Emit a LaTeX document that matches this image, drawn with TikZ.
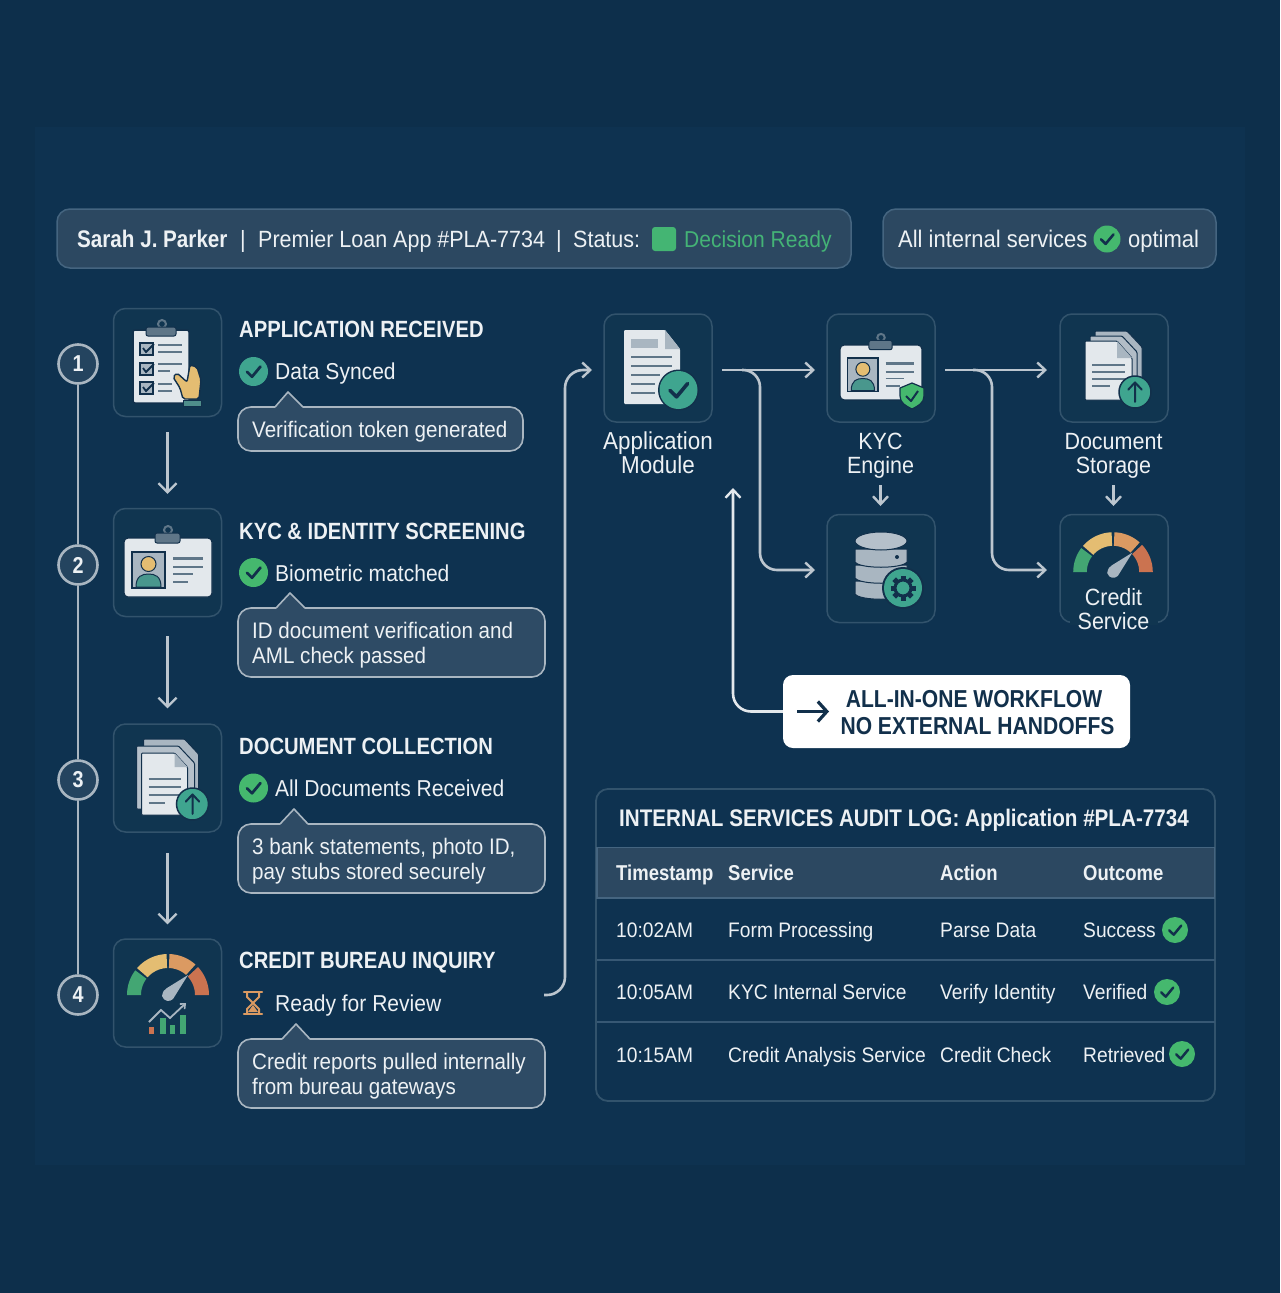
\documentclass[tikz,border=0pt]{standalone}
\usepackage{fontspec}
\usetikzlibrary{arrows.meta,calc}
\setmainfont[FakeStretch=0.915,BoldFeatures={FakeStretch=0.86}]{Liberation Sans}
\definecolor{bgout}{HTML}{0D2F4B}
\definecolor{bgin}{HTML}{0E3250}
\definecolor{cardfill}{HTML}{103550}
\definecolor{cardline}{HTML}{32536C}
\definecolor{barfill}{HTML}{2C4861}
\definecolor{barline}{HTML}{456580}
\definecolor{calfill}{HTML}{2E4B65}
\definecolor{calline}{HTML}{A9B6C1}
\definecolor{txt}{HTML}{EDF1F4}
\definecolor{navy}{HTML}{12304B}
\definecolor{arr}{HTML}{BCC6CF}
\definecolor{teal}{HTML}{3FA58F}
\definecolor{grn}{HTML}{45B86E}
\definecolor{paper}{HTML}{E3E8EC}
\definecolor{paperb}{HTML}{A9B6C1}
\definecolor{slate}{HTML}{5F7688}
\definecolor{gold}{HTML}{E4BD72}
\definecolor{orng}{HTML}{DB9A62}
\definecolor{redd}{HTML}{CB7350}
\definecolor{gaugeg}{HTML}{43A673}
\tikzset{
  x=1pt,y=-1pt,
  tx/.style={text=txt,inner sep=0pt,anchor=base west,font=\fontsize{23}{27}\selectfont},
  txc/.style={tx,anchor=base,font=\fontsize{23.5}{27}\selectfont},
  bb/.style={tx,font=\fontsize{23.5}{27}\selectfont},
  hd/.style={tx,font=\fontsize{23.5}{27}\selectfont\bfseries},
  cal/.style={tx,font=\fontsize{22.5}{27}\selectfont},
  tb/.style={tx,font=\fontsize{21}{27}\selectfont},
  tbh/.style={tx,font=\fontsize{21.5}{27}\selectfont\bfseries},
  card/.style={draw=cardline,fill=cardfill,line width=1.5pt,rounded corners=12pt,minimum width=108pt,minimum height=108pt,inner sep=0pt},
  bar/.style={draw=barline,fill=barfill,line width=1.5pt,rounded corners=13pt,inner sep=0pt},
  calbox/.style={draw=calline,fill=calfill,line width=1.6pt,rounded corners=13pt,inner sep=0pt},
  num/.style={circle,draw=calline,fill=calfill!70!bgin,line width=2.6pt,minimum size=39pt,inner sep=0pt,text=txt,font=\fontsize{23}{27}\selectfont\bfseries},
  tl/.style={draw=calline,line width=2.8pt},
  conn/.style={draw=arr,line width=2.6pt,-{Straight Barb[length=8pt,width=15pt,line width=2.4pt]}},
  stp/.style={draw=arr,line width=2.2pt,-{Straight Barb[length=9pt,width=18pt,line width=2.2pt]}},
  icoln/.style={draw=slate,line width=1.8pt},
}
% check badge: x y r colour
\newcommand{\ckb}[4]{%
  \fill[#4] (#1,#2) circle (#3);
  \draw[navy,line width=#3*0.19pt,line cap=round,line join=round]
    ($(#1,#2)+(-0.45*#3,0.02*#3)$) -- ($(#1,#2)+(-0.1*#3,0.36*#3)$) -- ($(#1,#2)+(0.48*#3,-0.34*#3)$);
}
% upload badge
\newcommand{\upb}[3]{%
  \fill[teal,draw=navy,line width=1.5pt] (#1,#2) circle (#3);
  \draw[navy,line width=2pt,line cap=round,line join=round]
    ($(#1,#2)+(0,0.62*#3)$) -- ($(#1,#2)+(0,-0.6*#3)$)
    ($(#1,#2)+(-0.42*#3,-0.15*#3)$) -- ($(#1,#2)+(0,-0.6*#3)$) -- ($(#1,#2)+(0.42*#3,-0.15*#3)$);
}
% id card: cx cy scale
\newcommand{\idcard}[3]{%
 \begin{scope}[shift={(#1,#2)},scale=#3]
  \fill[paper,draw=navy,line width=1.2pt,rounded corners=4pt] (-44,-29) rectangle (44,30);
  \draw[slate,line width=2pt] (0,-37) circle (4);
  \fill[slate,draw=navy,line width=1pt,rounded corners=2pt] (-13,-34) rectangle (12,-24);
  \fill[paperb,draw=navy,line width=1.6pt] (-36,-15) rectangle (-3,21);
  \fill[teal!70!slate,draw=navy,line width=1pt] (-32,20) .. controls (-32,9) and (-26,7) .. (-19.5,7) .. controls (-13,7) and (-7,9) .. (-7,20) -- cycle;
  \fill[gold,draw=navy,line width=1pt] (-19.5,-3) circle (7.5);
  \draw[slate,line width=3pt] (5,-9) -- (35,-9);
  \draw[slate,line width=1.6pt] (5,0) -- (35,0) (5,7) -- (25,7) (5,15) -- (20,15);
 \end{scope}}
% doc stack: cx cy scale
\newcommand{\docstack}[3]{%
 \begin{scope}[shift={(#1,#2)},scale=#3]
  \fill[paperb,draw=navy,line width=1pt,rounded corners=1pt] (-21,-45) -- (20,-45) -- (34,-30) -- (34,21) -- (-21,21) -- cycle;
  \fill[paperb!80!paper,draw=navy,line width=1pt,rounded corners=1pt] (-28,-38) -- (14,-38) -- (30,-21) -- (30,25) -- (-28,25) -- cycle;
  \fill[paper,draw=navy,line width=1pt,rounded corners=1pt] (-23,-31) -- (10,-31) -- (23,-17) -- (23,31) -- (-23,31) -- cycle;
  \fill[paperb] (10,-31) -- (23,-17) -- (10,-17) -- cycle;
  \draw[slate,line width=1.7pt] (-16,-5) -- (16,-5) (-16,3) -- (16,3) (-16,11) -- (16,11) (-16,19) -- (0,19);
 \end{scope}
 \upb{#1+28*#3}{#2+20*#3}{16}}
% gauge: cx cy scale
\newcommand{\gseg}[3]{\fill[#1] plot[domain=#2:#3,samples=14] ({41*cos(\x)},{-41*sin(\x)}) -- plot[domain=#3:#2,samples=14] ({27*cos(\x)},{-27*sin(\x)}) -- cycle;}
\newcommand{\gauge}[3]{%
 \begin{scope}[shift={(#1,#2)},scale=#3]
  \gseg{gaugeg}{180}{143}\gseg{gold}{139}{92}\gseg{orng}{88}{48}\gseg{redd}{43}{0}
  \fill[paperb] (-6,1) .. controls (-5,-4) and (-4,-5) .. (-1,-7) -- (20,-20) -- (5,4) .. controls (2,7) and (-4,7) .. (-6,1) -- cycle;
 \end{scope}}

\begin{document}
\begin{tikzpicture}
\useasboundingbox (0,0) rectangle (1280,1293);
\fill[bgout] (0,0) rectangle (1280,1293);
\fill[bgin] (35,127) rectangle (1245,1165);

%---- top bars
\node[bar,minimum width=794pt,minimum height=59pt] (barL) at (454,238.5) {};
\node[bar,minimum width=333pt,minimum height=59pt] (barR) at (1049.5,238.5) {};
\node[hd,font=\fontsize{24}{27}\selectfont\bfseries] (name) at (77,247) {Sarah J. Parker};
\node[bb] (sep1) at (240,247) {|};
\node[bb] (prem) at (258,247) {Premier Loan App \#PLA-7734};
\node[bb] (sep2) at (556,247) {|};
\node[bb] (stat) at (573,247) {Status:};
\node[fill=grn!85!teal,rounded corners=3pt,minimum size=24pt,inner sep=0pt] (sq) at (664,239) {};
\node[bb,text=grn!75!teal,font=\fontsize{23}{27}\selectfont] (dec) at (684,247) {Decision Ready};
\node[bb,font=\fontsize{24}{27}\selectfont] (alli) at (898,247) {All internal services};
\ckb{1107}{239}{13.5}{grn}
\node[bb,font=\fontsize{24}{27}\selectfont] (opt) at (1128,247) {optimal};

%---- timeline
\node[num] (n1) at (78,364) {1};
\node[num] (n2) at (78,565) {2};
\node[num] (n3) at (78,780) {3};
\node[num] (n4) at (78,995) {4};
\draw[tl] (n1)--(n2); \draw[tl] (n2)--(n3); \draw[tl] (n3)--(n4);

%---- step cards
\node[card] (s1) at (167.5,362.5) {};
\node[card] (s2) at (167.5,562.5) {};
\node[card] (s3) at (167.5,778) {};
\node[card] (s4) at (167.5,993) {};
\draw[stp,shorten <=15pt,shorten >=14pt] (s1) -- (s2);
\draw[stp,shorten <=19pt,shorten >=15pt] (s2) -- (s3);
\draw[stp,shorten <=20pt,shorten >=14pt] (s3) -- (s4);

% clipboard icon
\fill[paper,draw=navy,line width=1.5pt,rounded corners=2pt] (133,330) rectangle (189,403);
\draw[slate,line width=2pt] (162,324) circle (4);
\fill[slate,draw=navy,line width=1pt,rounded corners=2pt] (146,327) rectangle (176,336);
\foreach \yy in {343,363,382}{
  \fill[paperb,draw=navy,line width=1.5pt] (140,\yy) rectangle (153,\yy+12);
  \draw[navy,line width=1.8pt] (143,\yy+5) -- (146,\yy+9) -- (154,\yy+1);
}
\draw[icoln] (158,345) -- (182,345) (158,352) -- (182,352) (158,364) -- (182,364) (158,371) -- (170,371) (158,384) -- (172,384) (158,391) -- (172,391);
\fill[gold,draw=navy,line width=1.4pt,rounded corners=2pt] (173,377) -- (177,373) -- (187,382) -- (190,365) -- (197,367) -- (201,380) -- (199,399) -- (183,399) -- (180,388) -- cycle;
\fill[slate!50!teal,draw=navy,line width=.8pt] (183,400) rectangle (201,406);

\idcard{168}{567}{1}
\docstack{164.5}{784}{1}
\gauge{168}{995}{1}
% mini chart
\fill[redd] (149,1027) rectangle (154,1034);
\fill[gaugeg] (160,1018) rectangle (165.5,1034);
\fill[gaugeg] (170,1025) rectangle (175,1034);
\fill[gaugeg] (180,1015) rectangle (185.5,1034);
\draw[paperb,line width=1.8pt,-{Straight Barb[length=4pt,width=7pt,line width=1.6pt]}] (149,1022) -- (161,1010) -- (170,1018) -- (186,1003);

%---- step texts
\node[hd] (h1) at (239,337) {APPLICATION RECEIVED};
\ckb{253.5}{371.5}{14.5}{teal}
\node[tx] (t1) at (275,379) {Data Synced};
\node[calbox,minimum width=285pt,minimum height=44pt] (b1) at (380.5,429) {};
\fill[calfill] (275,408) -- (288,392) -- (303,408) -- cycle;
\draw[calline,line width=1.6pt,line join=round] (275,407) -- (288,392) -- (303,407);
\node[cal] (l1) at (252,437) {Verification token generated};

\node[hd] (h2) at (239,539) {KYC \& IDENTITY SCREENING};
\ckb{253.5}{572.5}{14.5}{grn}
\node[tx] (t2) at (275,581) {Biometric matched};
\node[calbox,minimum width=307pt,minimum height=69pt] (b2) at (391.5,642.5) {};
\fill[calfill] (276,609) -- (290,593) -- (305,609) -- cycle;
\draw[calline,line width=1.6pt,line join=round] (276,608) -- (290,593) -- (305,608);
\node[cal] (l2a) at (252,638) {ID document verification and};
\node[cal] (l2b) at (252,663) {AML check passed};

\node[hd] (h3) at (239,754) {DOCUMENT COLLECTION};
\ckb{253.5}{788}{14.5}{grn}
\node[tx] (t3) at (275,796) {All Documents Received};
\node[calbox,minimum width=307pt,minimum height=69pt] (b3) at (391.5,858.5) {};
\fill[calfill] (280,825) -- (294,809) -- (308,825) -- cycle;
\draw[calline,line width=1.6pt,line join=round] (280,824) -- (294,809) -- (308,824);
\node[cal] (l3a) at (252,854) {3 bank statements, photo ID,};
\node[cal] (l3b) at (252,879) {pay stubs stored securely};

\node[hd] (h4) at (239,968) {CREDIT BUREAU INQUIRY};
\draw[orng,line width=2.2pt,line cap=round] (244,992) -- (262,992) (244,1014) -- (262,1014);
\draw[orng,line width=2pt,line join=round] (247,992) -- (247,997) -- (259,1009) -- (259,1014) (259,992) -- (259,997) -- (247,1009) -- (247,1014);
\fill[orng] (253,1005) -- (258,1012) -- (248,1012) -- cycle;
\node[tx] (t4) at (275,1011) {Ready for Review};
\node[calbox,minimum width=307pt,minimum height=69pt] (b4) at (391.5,1073.5) {};
\fill[calfill] (282,1040) -- (296,1024) -- (310,1040) -- cycle;
\draw[calline,line width=1.6pt,line join=round] (282,1039) -- (296,1024) -- (310,1039);
\node[cal] (l4a) at (252,1069) {Credit reports pulled internally};
\node[cal] (l4b) at (252,1094) {from bureau gateways};

%---- right cards
\node[card] (app) at (658,368) {};
\node[card] (kyc) at (881,368) {};
\node[card] (docs) at (1114,368) {};
\node[card] (db) at (881,568.5) {};
\node[card] (cred) at (1114,568.5) {};

% application doc icon
\fill[paper,rounded corners=1pt] (624,330) -- (665,330) -- (680,349) -- (680,404) -- (624,404) -- cycle;
\fill[paperb] (665,330) -- (680,349) -- (665,349) -- cycle;
\fill[paperb] (631,339) rectangle (658,348);
\draw[icoln] (631,357) -- (672,357) (631,366) -- (672,366) (631,375) -- (660,375) (631,384) -- (655,384) (631,393) -- (655,393);
\fill[navy] (678.5,390) circle (20.5);
\ckb{678.5}{390}{19}{teal}

% KYC icon
\idcard{881}{372}{0.93}
\fill[grn,draw=navy,line width=1.2pt,line join=round] (912,383) -- (924,388) -- (924,396) .. controls (924,403) and (918,406) .. (912,409) .. controls (906,406) and (900,403) .. (900,396) -- (900,388) -- cycle;
\draw[navy,line width=2pt,line join=round] (906,396) -- (911,401) -- (918,391);

% doc storage icon (sheets fan out up and to the right of the front page)
\fill[paperb,draw=navy,line width=1pt,rounded corners=1pt] (1095,331) -- (1127,331) -- (1142,347) -- (1142,391) -- (1095,391) -- cycle;
\fill[paperb!85!paper,draw=navy,line width=1pt,rounded corners=1pt] (1090,336) -- (1122,336) -- (1137,352) -- (1137,396) -- (1090,396) -- cycle;
\fill[paper,draw=navy,line width=1pt,rounded corners=1pt] (1085,341) -- (1117,341) -- (1132,358) -- (1132,400) -- (1085,400) -- cycle;
\fill[paperb] (1117,341) -- (1132,358) -- (1117,358) -- cycle;
\draw[slate,line width=1.7pt] (1092,365) -- (1125,365) (1092,372) -- (1125,372) (1092,379) -- (1125,379) (1092,386) -- (1110,386);
\upb{1135}{392}{16}

% database icon
\foreach \yy in {581,565,549}{
  \fill[paperb,draw=navy,line width=1pt] (855,\yy) -- (855,\yy+13) .. controls (860,\yy+20) and (902,\yy+20) .. (907,\yy+13) -- (907,\yy) -- cycle;
}
\fill[paperb!80!paper,draw=navy,line width=1pt] (881,541) ellipse (26 and 9);
\fill[navy] (897,557) circle (2) (897,573) circle (2);
\fill[navy] (903,588) circle (21);
\fill[teal] (903,588) circle (19);
\foreach \a in {0,45,...,315}{
  \fill[navy,rotate around={\a:(903,588)}] (900.5,575.5) rectangle (905.5,583);
}
\fill[teal,draw=navy,line width=3pt] (903,588) circle (8);

% credit gauge
\gauge{1113}{572}{0.97}
\fill[cardfill] (1070,617) rectangle (1158,625);

%---- labels
\node[txc,font=\fontsize{24.5}{27}\selectfont] (la) at (658,449) {Application};
\node[txc,font=\fontsize{24.5}{27}\selectfont] (lb) at (658,473) {Module};
\node[txc] (lc) at (880.5,449) {KYC};
\node[txc] (ld) at (880.5,473) {Engine};
\node[txc] (le) at (1113.5,449) {Document};
\node[txc] (lf) at (1113.5,473) {Storage};
\node[txc] (lg) at (1113.5,605) {Credit};
\node[txc] (lh) at (1113.5,629) {Service};

%---- connectors
\coordinate (st4out) at (544,995);
\coordinate (appin) at (592,370);
\draw[conn,rounded corners=18pt] (st4out) -- (565,995) -- (565,370) -- (appin);
\coordinate (aout) at (722,370);
\coordinate (kin) at (815,370);
\coordinate (ja) at (742,370);
\coordinate (dbin) at (815,570);
\draw[conn] (aout) -- (kin);
\draw[conn,rounded corners=17pt] (ja) -- (760,370) -- (760,570) -- (dbin);
\coordinate (kout) at (945,370);
\coordinate (din) at (1047,370);
\coordinate (jb) at (973,370);
\coordinate (crin) at (1047,570);
\draw[conn] (kout) -- (din);
\draw[conn,rounded corners=17pt] (jb) -- (992,370) -- (992,570) -- (crin);
\coordinate (e1) at (880.5,485);
\coordinate (e2) at (880.5,506);
\draw[conn] (e1) -- (e2);
\coordinate (e3) at (1113.5,485);
\coordinate (e4) at (1113.5,506);
\draw[conn] (e3) -- (e4);

%---- white callout
\node[fill=white,rounded corners=10pt,minimum width=347pt,minimum height=73pt,inner sep=0pt] (wf) at (956.5,711.5) {};
\coordinate (up) at (733,488);
\draw[draw=paper,line width=2.6pt,rounded corners=18pt,-{Straight Barb[length=8pt,width=15pt,line width=2.4pt]}] (wf.west) -- (733,711.5) -- (up);
\coordinate (wa) at (797,711.5);
\coordinate (wb) at (829,711.5);
\draw[navy,line width=3.2pt,-{Straight Barb[length=9pt,width=20pt,line width=3.2pt]}] (wa) -- (wb);
\node[tx,anchor=base,text=navy,font=\fontsize{24.5}{27}\selectfont\bfseries] (w1) at (974,707) {ALL-IN-ONE WORKFLOW};
\node[tx,anchor=base,text=navy,font=\fontsize{24.5}{27}\selectfont\bfseries] (w2) at (977.5,734) {NO EXTERNAL HANDOFFS};

%---- audit table
\node[draw=cardline,fill=bgin,line width=1.8pt,rounded corners=12pt,minimum width=619pt,minimum height=312pt,inner sep=0pt] (tbl) at (905.5,945) {};
\fill[barfill,draw=barline,line width=1.2pt] (597,847.5) rectangle (1214.5,898);
\draw[draw=barline!75!bgin,line width=1.5pt] (597,960) -- (1214.5,960) (597,1022) -- (1214.5,1022);
\node[hd,font=\fontsize{24}{27}\selectfont\bfseries] (tt) at (619,826) {INTERNAL SERVICES AUDIT LOG: Application \#PLA-7734};
\node[tbh] (c1) at (616,880) {Timestamp};
\node[tbh] (c2) at (728,880) {Service};
\node[tbh] (c3) at (940,880) {Action};
\node[tbh] (c4) at (1083,880) {Outcome};
\node[tb] (r1a) at (616,937) {10:02AM};
\node[tb] (r1b) at (728,937) {Form Processing};
\node[tb] (r1c) at (940,937) {Parse Data};
\node[tb] (r1d) at (1083,937) {Success};
\ckb{1175}{930}{13}{grn}
\node[tb] (r2a) at (616,999) {10:05AM};
\node[tb] (r2b) at (728,999) {KYC Internal Service};
\node[tb] (r2c) at (940,999) {Verify Identity};
\node[tb] (r2d) at (1083,999) {Verified};
\ckb{1167}{992}{13}{grn}
\node[tb] (r3a) at (616,1062) {10:15AM};
\node[tb] (r3b) at (728,1062) {Credit Analysis Service};
\node[tb] (r3c) at (940,1062) {Credit Check};
\node[tb] (r3d) at (1083,1062) {Retrieved};
\ckb{1182}{1054}{13}{grn}
\end{tikzpicture}
\end{document}
